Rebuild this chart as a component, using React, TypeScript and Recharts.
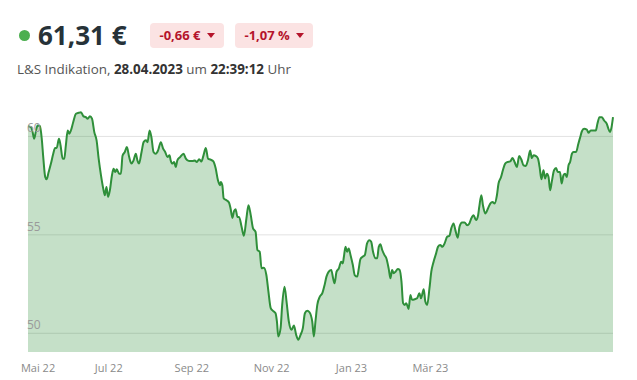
import React from 'react';
import { AreaChart, Area, XAxis, YAxis, CartesianGrid } from 'recharts';

// [trading day, price in €], split by two-month blocks
const mayJun22: [number, number][] = [
  [0, 60.52], [1.3, 60.47], [2.0, 60.22], [2.7, 59.88], [3.5, 60.3], [4.2, 60.56], [5.2, 60.52], [6.0, 59.88],
  [6.7, 58.87], [7.5, 57.94], [8.1, 57.82], [9.0, 58.19], [10.0, 58.62], [11.0, 59.12], [11.8, 59.41], [12.5, 59.41],
  [13.5, 59.88], [14.2, 59.54], [15.1, 58.87], [15.8, 58.87], [16.5, 59.54], [17.3, 60.3], [18.0, 60.14], [18.7, 60.3],
  [19.7, 60.72], [20.9, 61.15], [22.1, 61.2], [23.1, 61.23], [24.1, 61.03], [25.2, 60.98], [26.0, 60.9], [27.0, 61.03],
  [27.9, 60.9], [28.9, 60.22], [29.9, 59.8], [30.8, 58.87], [31.8, 58.03], [32.8, 57.35], [33.5, 57.01], [34.2, 57.43],
  [34.9, 56.93],
];
const julAug22: [number, number][] = [
  [35.7, 57.27], [36.6, 58.03], [37.3, 58.36], [38.0, 58.19], [38.7, 58.33], [39.7, 58.11], [40.5, 58.11], [41.2, 59.02],
  [42.2, 59.21], [43.1, 59.46], [44.1, 58.95], [45.1, 58.62], [46.0, 58.78], [47.0, 59.12], [47.7, 58.78], [48.4, 58.62],
  [49.5, 59.21], [50.4, 59.71], [51.4, 59.8], [52.1, 59.71], [53.0, 60.3], [53.8, 59.96], [54.7, 59.21], [55.7, 59.12],
  [56.7, 59.29], [57.9, 59.71], [58.9, 59.38], [59.8, 59.21], [60.8, 58.95], [61.7, 59.04], [62.2, 58.78], [63.0, 58.62],
  [63.7, 58.7], [64.4, 58.45], [65.1, 58.78], [66.3, 58.95], [67.8, 59.12], [68.8, 58.87], [70.2, 58.75],
];
const sepOct22: [number, number][] = [
  [71.7, 58.75], [72.7, 58.78], [73.6, 58.7], [74.6, 58.84], [75.6, 58.73], [76.5, 59.04], [77.5, 59.41], [78.5, 58.87],
  [79.6, 58.82], [80.8, 58.73], [81.8, 58.38], [82.8, 57.77], [83.7, 57.52], [84.0, 57.69], [84.7, 57.52], [85.3, 56.85],
  [86.5, 56.76], [87.6, 56.64], [88.3, 56.34], [89.1, 55.86], [89.8, 56.2], [90.5, 56.3], [91.3, 55.91], [92.0, 55.91],
  [93.1, 55.41], [94.1, 54.95], [95.2, 55.83], [96.1, 56.51], [97.1, 56.0], [98.1, 55.33], [99.2, 55.15], [100.0, 54.23],
  [101.0, 54.14], [101.8, 53.3], [102.8, 53.33], [103.9, 52.96], [104.8, 52.12], [105.8, 51.28],
];
const novDec22: [number, number][] = [
  [106.8, 51.14], [107.9, 51.02], [108.5, 50.6], [109.1, 49.84], [110.1, 50.26], [110.8, 51.44], [111.8, 52.37], [112.7, 51.61],
  [113.7, 50.6], [114.9, 50.18], [115.9, 50.39], [116.9, 49.92], [117.8, 49.67], [118.8, 49.92], [119.8, 50.26], [120.7, 51.02],
  [121.7, 51.15], [122.7, 51.07], [123.9, 50.6], [124.6, 49.84], [125.3, 50.6], [126.1, 51.44], [127.2, 51.86], [128.3, 52.04],
  [129.3, 52.46], [130.1, 52.88], [131.1, 53.13], [132.2, 53.22], [133.0, 52.79], [133.6, 52.54], [134.5, 53.13], [135.5, 53.3],
  [136.5, 53.64], [137.2, 53.55], [137.7, 53.89], [138.4, 54.39], [139.1, 54.14], [139.8, 54.31], [140.6, 53.97],
];
const janFeb23: [number, number][] = [
  [141.6, 53.47], [142.4, 52.96], [143.5, 52.88], [144.2, 53.3], [144.9, 53.77], [145.9, 53.89], [146.8, 53.97], [147.8, 54.57],
  [148.8, 54.73], [149.6, 54.65], [150.4, 54.14], [151.5, 53.81], [152.2, 53.81], [152.9, 54.39], [153.6, 54.52], [154.4, 54.23],
  [155.4, 53.97], [156.2, 53.81], [157.2, 53.3], [158.0, 52.79], [158.7, 53.22], [159.4, 53.05], [160.2, 53.13], [161.2, 53.27],
  [162.0, 53.22], [162.8, 52.62], [163.5, 51.53], [164.2, 51.44], [164.9, 51.53], [165.9, 51.24], [166.7, 51.95], [167.4, 51.7],
  [168.6, 51.73], [169.6, 51.78], [170.6, 52.04], [171.3, 51.78], [172.5, 52.24], [173.2, 51.61], [174.0, 51.44], [175.0, 52.29],
];
const marApr23: [number, number][] = [
  [175.8, 53.13], [176.8, 53.64], [177.9, 54.06], [178.7, 54.39], [179.7, 54.48], [180.7, 54.39], [181.6, 54.57], [182.7, 54.9],
  [183.7, 54.95], [184.5, 55.33], [185.5, 55.58], [186.3, 55.24], [187.3, 54.85], [188.1, 55.41], [189.2, 55.63], [190.3, 55.63],
  [191.4, 55.49], [192.4, 55.58], [193.2, 55.83], [194.2, 56.0], [195.3, 55.75], [196.2, 56.0], [196.7, 56.42], [197.6, 57.01],
  [198.3, 56.51], [199.3, 56.09], [200.5, 56.34], [201.5, 56.59], [202.5, 56.67], [203.4, 56.59], [204.4, 57.01], [205.1, 57.61],
  [206.2, 57.94], [207.0, 58.28], [208.0, 58.62], [209.0, 58.7], [210.2, 58.73], [211.2, 58.9], [212.1, 58.7], [213.1, 58.45],
  [214.1, 59.0], [215.0, 58.84], [216.0, 58.53], [217.0, 58.5], [217.9, 58.78], [218.9, 59.29], [219.6, 58.9], [220.4, 59.04],
  [221.4, 59.0], [222.3, 58.87], [223.0, 58.45], [223.8, 57.82], [224.7, 58.28], [225.4, 57.86], [226.2, 58.11], [226.9, 57.94],
  [227.6, 57.27], [228.3, 57.69], [229.3, 58.28], [230.2, 58.39], [230.9, 58.19], [231.9, 58.19], [232.6, 57.61], [233.4, 58.03],
  [234.1, 58.11], [234.9, 57.94], [235.6, 58.53], [236.3, 58.7], [237.1, 59.12], [237.8, 59.21], [238.9, 59.21], [239.9, 59.63],
  [240.7, 59.96], [241.4, 60.25], [242.4, 60.39], [243.6, 60.35], [244.3, 60.19], [245.3, 60.3], [246.5, 60.3], [247.5, 60.3],
  [248.2, 60.64], [249.1, 60.98], [250.1, 60.98], [251.1, 60.81], [252.3, 60.64], [253.0, 60.39], [253.7, 60.22], [254.5, 60.56],
  [255, 60.98],
];

const monthTicks = [4.4, 35.2, 71.4, 106.2, 141.0, 175.4];
const monthLabels = ['Mai 22', 'Jul 22', 'Sep 22', 'Nov 22', 'Jan 23', 'Mär 23'];
const priceTicks = [50, 55, 60];

const data = [...mayJun22, ...julAug22, ...sepOct22, ...novDec22, ...janFeb23, ...marApr23].map(([day, price]) => ({
  day,
  price,
}));

const PLOT_LEFT = 27;
const font = '"Open Sans", "Noto Sans", sans-serif';

const Badge = ({ text }: { text: string }) => (
  <div
    style={{
      display: 'flex',
      alignItems: 'center',
      height: 25,
      padding: '0 9px 0 10px',
      background: '#fbe3e3',
      borderRadius: 4,
      color: '#b5142b',
      fontWeight: 700,
      fontSize: 13,
      marginRight: 11,
    }}
  >
    {text}
    <span
      style={{
        display: 'inline-block',
        marginLeft: 6,
        width: 0,
        height: 0,
        borderLeft: '4.5px solid transparent',
        borderRight: '4.5px solid transparent',
        borderTop: '5px solid #b5142b',
      }}
    />
  </div>
);

const YTick = (props: any) => (
  <text x={PLOT_LEFT} y={props.y - 4} fontSize={12} fill="#9a9a9a" fontFamily={font}>
    {props.payload.value}
  </text>
);

export default function App() {
  return (
    <div style={{ position: 'absolute', left: 0, top: 0, width: 637, height: 380, background: '#fff', fontFamily: font }}>
      <div style={{ position: 'absolute', left: 19, top: 17, display: 'flex', alignItems: 'center' }}>
        <span style={{ width: 11, height: 11, borderRadius: '50%', background: '#4caf50', display: 'inline-block' }} />
        <span style={{ fontSize: 26, fontWeight: 700, color: '#263238', marginLeft: 8, marginRight: 23, lineHeight: '36px' }}>
          61,31 €
        </span>
        <Badge text="-0,66 €" />
        <Badge text="-1,07 %" />
      </div>
      <div style={{ position: 'absolute', left: 17, top: 60, fontSize: 13.4, color: '#555' }}>
        L&amp;S Indikation, <b style={{ color: '#333' }}>28.04.2023</b> um <b style={{ color: '#333' }}>22:39:12</b> Uhr
      </div>
      <div style={{ position: 'absolute', left: 0, top: 0 }}>
        <AreaChart width={637} height={380} data={data} margin={{ top: 100, right: 24, left: PLOT_LEFT, bottom: 0 }}>
          <CartesianGrid vertical={false} stroke="#e2e2e2" syncWithTicks />
          <XAxis
            dataKey="day"
            type="number"
            domain={[0, 255]}
            ticks={monthTicks}
            tickFormatter={(v: number) => monthLabels[monthTicks.indexOf(v)]}
            height={28}
            axisLine={false}
            tickLine={false}
            tickMargin={6}
            tick={{ fontSize: 11, fill: '#8a8a8a', fontFamily: font }}
          />
          <YAxis
            type="number"
            domain={[49.05, 61.85]}
            ticks={priceTicks}
            width={1}
            axisLine={false}
            tickLine={false}
            tick={(p: any) => <YTick {...p} />}
          />
          <Area
            type="monotone"
            dataKey="price"
            stroke="#2f8f3a"
            strokeWidth={2}
            fill="#2f8f3a"
            fillOpacity={0.28}
            isAnimationActive={false}
            dot={false}
            activeDot={false}
          />
        </AreaChart>
      </div>
    </div>
  );
}
